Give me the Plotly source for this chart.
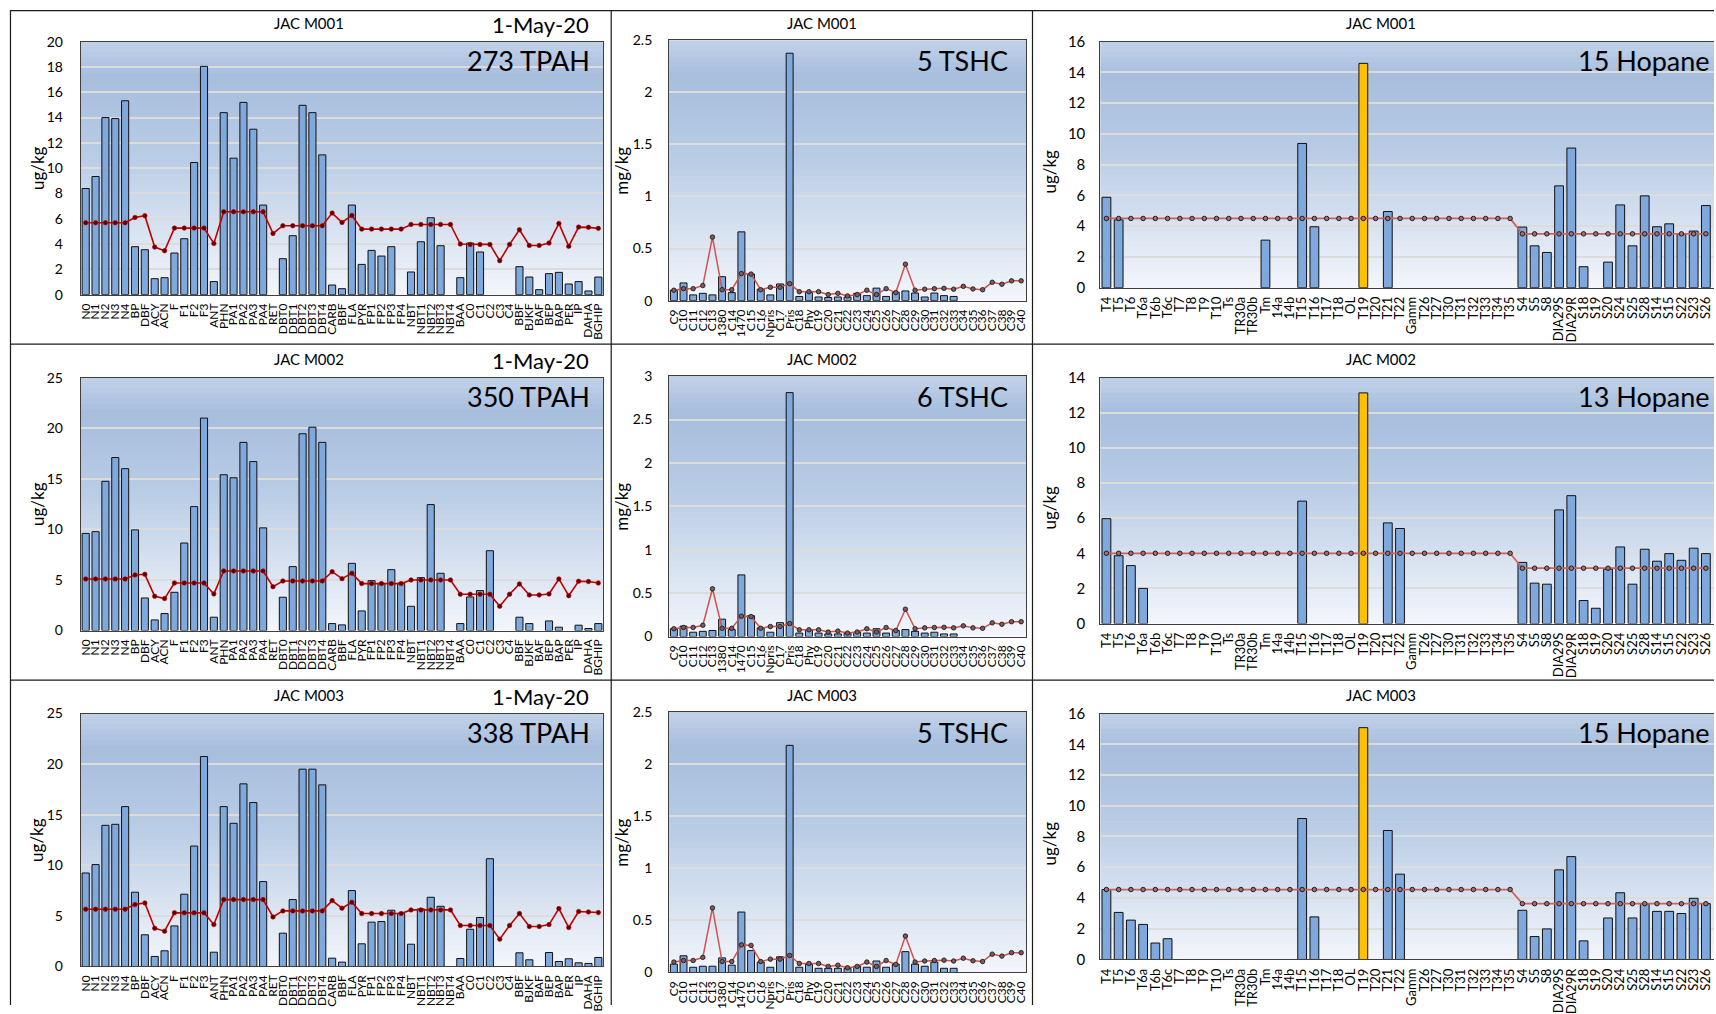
import plotly.graph_objects as go

W, H = 1716, 1014
# vertical placement: positions below are page pixels; Y_OFF / Y_K map them onto the
# figure's own pixel grid
Y_OFF, Y_K = 9.3, 0.9815
FONT = "Lato, 'Open Sans', sans-serif"

SAMPLES = ["JAC M001", "JAC M002", "JAC M003"]
SAMPLE_DATE = "1-May-20"

# ---------------- PAH (ug/kg) ----------------
PAH_LABELS = ["N0", "N1", "N2", "N3", "N4", "BP", "DBF", "ACY", "ACN", "F", "F1", "F2", "F3",
              "ANT", "PHN", "PA1", "PA2", "PA3", "PA4", "RET", "DBT0", "DBT1", "DBT2", "DBT3",
              "DBT4", "CARB", "BBF", "FLA", "PYR", "FP1", "FP2", "FP3", "FP4", "NBT", "NBT1",
              "NBT2", "NBT3", "NBT4", "BAA", "C0", "C1", "C2", "C3", "C4", "BBF", "BJKF", "BAF",
              "BEP", "BAP", "PER", "IP", "DAHA", "BGHIP"]

PAH_M001 = [8.39, 9.34, 14.0, 13.92, 15.33, 3.79, 3.55, 1.26, 1.34, 3.29, 4.42, 10.45, 18.05,
            1.03, 14.39, 10.79, 15.2, 13.08, 7.08, 0, 2.84, 4.66, 14.97, 14.39, 11.05, 0.76,
            0.47, 7.08, 2.39, 3.5, 3.05, 3.79, 0, 1.79, 4.18, 6.08, 3.87, 0, 1.34, 4.08, 3.37,
            0, 0, 0, 2.21, 1.39, 0.39, 1.66, 1.76, 0.84, 1.03, 0.29, 1.39]
PAH_M002 = [9.6, 9.77, 14.75, 17.1, 16.0, 9.95, 3.22, 1.05, 1.68, 3.78, 8.65, 12.25, 21.0,
            1.32, 15.4, 15.1, 18.6, 16.7, 10.15, 0, 3.29, 6.32, 19.45, 20.1, 18.6, 0.69, 0.56,
            6.64, 1.94, 4.93, 4.67, 6.02, 4.7, 2.4, 5.23, 12.45, 5.66, 0, 0.69, 3.32, 3.95,
            7.89, 0, 0, 1.32, 0.69, 0, 0.95, 0.33, 0, 0.53, 0.2, 0.69]
PAH_M003 = [9.24, 10.07, 13.95, 14.05, 15.8, 7.34, 3.13, 0.99, 1.55, 4.01, 7.14, 11.9, 20.75,
            1.41, 15.8, 14.15, 18.05, 16.2, 8.39, 0, 3.29, 6.61, 19.5, 19.5, 17.95, 0.82, 0.43,
            7.5, 2.24, 4.38, 4.44, 5.56, 5.26, 2.2, 5.69, 6.84, 5.95, 0, 0.79, 3.68, 4.84,
            10.65, 0, 0, 1.35, 0.66, 0, 1.38, 0.49, 0.76, 0.36, 0.3, 0.89]

PAH_REF_M001 = [5.68, 5.68, 5.68, 5.68, 5.68, 6.1, 6.24, 3.76, 3.47, 5.26, 5.26, 5.26, 5.26,
                4.05, 6.55, 6.55, 6.55, 6.55, 6.55, 4.84, 5.45, 5.45, 5.45, 5.45, 5.45, 6.45,
                5.71, 6.26, 5.18, 5.18, 5.18, 5.18, 5.18, 5.55, 5.55, 5.55, 5.55, 5.55, 4.0,
                3.97, 3.97, 3.97, 2.68, 3.97, 5.13, 3.89, 3.89, 4.08, 5.63, 3.82, 5.34, 5.32, 5.24]
PAH_REF_M002 = [5.1, 5.1, 5.1, 5.1, 5.1, 5.49, 5.56, 3.39, 3.16, 4.7, 4.7, 4.7, 4.7,
                3.62, 5.89, 5.89, 5.89, 5.89, 5.89, 4.34, 4.9, 4.9, 4.9, 4.9, 4.9, 5.82,
                5.13, 5.66, 4.64, 4.64, 4.64, 4.64, 4.64, 5.0, 5.0, 5.0, 5.0, 5.0, 3.59,
                3.59, 3.59, 3.59, 2.4, 3.59, 4.61, 3.52, 3.52, 3.62, 5.1, 3.45, 4.87, 4.84, 4.7]
PAH_REF_M003 = [5.66, 5.66, 5.66, 5.66, 5.66, 6.12, 6.28, 3.78, 3.49, 5.3, 5.3, 5.3, 5.3,
                4.14, 6.61, 6.61, 6.61, 6.61, 6.61, 4.9, 5.49, 5.49, 5.49, 5.49, 5.49, 6.51,
                5.76, 6.35, 5.23, 5.23, 5.23, 5.23, 5.23, 5.59, 5.59, 5.59, 5.59, 5.59, 4.05,
                4.05, 4.05, 4.05, 2.7, 4.05, 5.23, 3.95, 3.95, 4.14, 5.72, 3.85, 5.43, 5.39, 5.33]

# ---------------- TSHC (mg/kg) ----------------
TSHC_LABELS = ["C9", "C10", "C11", "C12", "C13", "1380", "C14", "1470", "C15", "C16", "Npris",
               "C17", "Pris", "C18", "Phy", "C19", "C20", "C21", "C22", "C23", "C24", "C25",
               "C26", "C27", "C28", "C29", "C30", "C31", "C32", "C33", "C34", "C35", "C36",
               "C37", "C38", "C39", "C40"]

TSHC_M001 = [0.10, 0.17, 0.055, 0.07, 0.055, 0.23, 0.077, 0.66, 0.255, 0.11, 0.055, 0.16,
             2.375, 0.04, 0.08, 0.035, 0.03, 0.035, 0.035, 0.07, 0.048, 0.12, 0.04, 0.08,
             0.093, 0.073, 0.035, 0.073, 0.048, 0.04, 0, 0, 0, 0, 0, 0, 0]
TSHC_M002 = [0.09, 0.12, 0.05, 0.06, 0.07, 0.2, 0.08, 0.71, 0.24, 0.1, 0.05, 0.16,
             2.81, 0.04, 0.08, 0.04, 0.03, 0.03, 0.04, 0.05, 0.04, 0.09, 0.04, 0.07,
             0.08, 0.06, 0.04, 0.05, 0.03, 0.03, 0, 0, 0, 0, 0, 0, 0]
TSHC_M003 = [0.08, 0.16, 0.05, 0.06, 0.06, 0.14, 0.07, 0.58, 0.21, 0.1, 0.05, 0.15,
             2.18, 0.05, 0.08, 0.04, 0.04, 0.04, 0.04, 0.06, 0.05, 0.11, 0.05, 0.08,
             0.2, 0.08, 0.06, 0.1, 0.04, 0.04, 0, 0, 0, 0, 0, 0, 0]

TSHC_REF_M001 = [0.10, 0.115, 0.115, 0.145, 0.61, 0.105, 0.105, 0.26, 0.255, 0.105, 0.128,
                 0.128, 0.163, 0.086, 0.086, 0.086, 0.058, 0.07, 0.045, 0.058, 0.1, 0.058,
                 0.115, 0.077, 0.35, 0.10, 0.11, 0.115, 0.118, 0.11, 0.137, 0.112, 0.105,
                 0.176, 0.157, 0.19, 0.19]
TSHC_REF_M002 = [0.09, 0.105, 0.105, 0.13, 0.55, 0.095, 0.095, 0.235, 0.23, 0.095, 0.115,
                 0.115, 0.15, 0.078, 0.078, 0.078, 0.052, 0.063, 0.04, 0.052, 0.09, 0.052,
                 0.104, 0.07, 0.315, 0.09, 0.1, 0.104, 0.106, 0.1, 0.123, 0.1, 0.095,
                 0.158, 0.141, 0.171, 0.171]
TSHC_REF_M003 = [0.10, 0.115, 0.115, 0.145, 0.62, 0.105, 0.105, 0.265, 0.26, 0.105, 0.128,
                 0.128, 0.163, 0.086, 0.086, 0.086, 0.058, 0.07, 0.045, 0.058, 0.1, 0.058,
                 0.115, 0.077, 0.35, 0.10, 0.11, 0.115, 0.118, 0.11, 0.137, 0.112, 0.105,
                 0.176, 0.157, 0.19, 0.19]

# ---------------- Hopanes / steranes (ug/kg) ----------------
HOP_LABELS = ["T4", "T5", "T6", "T6a", "T6b", "T6c", "T7", "T8", "T9", "T10", "Ts", "TR30a",
              "TR30b", "Tm", "14a", "14b", "T15", "T16", "T17", "T18", "OL", "T19", "T20",
              "T21", "T22", "Gamm", "T26", "T27", "T30", "T31", "T32", "T33", "T34", "T35",
              "S4", "S5", "S8", "DIA29S", "DIA29R", "S18", "S19", "S20", "S24", "S25", "S28",
              "S14", "S15", "S22", "S23", "S26"]
HOP_KEY = "T19"

HOP_M001 = [5.88, 4.41, 0, 0, 0, 0, 0, 0, 0, 0, 0, 0, 0, 3.09, 0, 0, 9.38, 3.96, 0, 0, 0,
            14.59, 0, 4.95, 0, 0, 0, 0, 0, 0, 0, 0, 0, 0, 3.94, 2.72, 2.29, 6.62, 9.08, 1.36,
            0, 1.66, 5.38, 2.72, 5.97, 3.96, 4.15, 3.48, 3.68, 5.34]
HOP_M002 = [5.97, 3.86, 3.3, 2.0, 0, 0, 0, 0, 0, 0, 0, 0, 0, 0, 0, 0, 6.97, 0, 0, 0, 0,
            13.13, 0, 5.73, 5.41, 0, 0, 0, 0, 0, 0, 0, 0, 0, 3.48, 2.3, 2.24, 6.47, 7.28, 1.31,
            0.87, 3.1, 4.36, 2.24, 4.23, 3.55, 3.98, 3.6, 4.29, 3.98]
HOP_M003 = [4.55, 3.06, 2.56, 2.28, 1.07, 1.35, 0, 0, 0, 0, 0, 0, 0, 0, 0, 0, 9.17, 2.77, 0,
            0, 0, 15.08, 0, 8.39, 5.55, 0, 0, 0, 0, 0, 0, 0, 0, 0, 3.2, 1.49, 1.99, 5.83, 6.69,
            1.21, 0, 2.7, 4.34, 2.7, 3.63, 3.13, 3.13, 2.99, 3.98, 3.63]

# reference levels: terpane block (T4..T35) and sterane block (S4..S26)
HOP_REF_LEVELS = [(4.5, 3.5), (4.0, 3.15), (4.55, 3.63)]
N_TERPANES = 34

PAH_YMAX = [20, 25, 25]
PAH_DTICK = [2, 5, 5]
TSHC_YMAX = [2.5, 3, 2.5]
HOP_YMAX = [16, 14, 16]

# ---------------- layout geometry (page pixels) ----------------
ROW_STEP = 336
COLS = {
    "pah": dict(x0=78, x1=602, y0=41, y1=294),
    "tshc": dict(x0=668, x1=1026, y0=39.5, y1=300),
    "hop": dict(x0=1100.5, x1=1716, y0=41, y1=287),
}
HOP_SLOT = 12.27  # px per hopane category

BAR_BLUE = "#7FA8DD"
BAR_KEY = "#FFC000"

fig = go.Figure()
shapes = []
annotations = []


def px(x):
    return x / W


def py(y):
    return 1 - ((y - Y_OFF) / Y_K) / H


def axid(letter, k):
    return letter if k == 1 else f"{letter}{k}"


def mix(c1, c2, t):
    return tuple(round(a + (b - a) * t) for a, b in zip(c1, c2))


GRAD_STOPS = [(0.0, (194, 210, 232)), (0.14, (166, 189, 221)), (0.45, (185, 204, 229)),
              (1.0, (243, 246, 251))]


def grad_color(t):
    for (t0, c0), (t1, c1) in zip(GRAD_STOPS[:-1], GRAD_STOPS[1:]):
        if t0 <= t <= t1:
            return "rgb(%d,%d,%d)" % mix(c0, c1, (t - t0) / (t1 - t0))
    return "rgb(%d,%d,%d)" % GRAD_STOPS[-1][1]


def add_background(k):
    n = 48
    for i in range(n):
        t = (i + 0.5) / n
        shapes.append(dict(type="rect", xref=f"{axid('x', k)} domain",
                           yref=f"{axid('y', k)} domain",
                           x0=0, x1=1, y0=max(0, 1 - (i + 1) / n - 0.003), y1=1 - i / n,
                           fillcolor=grad_color(t), line=dict(width=0), layer="below"))


def add_panel(k, row, geom, labels, values, ref, ymax, dtick, ref_style, ytitle,
              ytitle_xy, tick_size, xtick_size, standoff, right_border=True, x_end=None,
              colors=None):
    off = row * ROW_STEP
    n = len(labels)
    xs = list(range(n))
    xa, ya = axid("x", k), axid("y", k)
    # empty results are left without a bar
    shown = [v if v else None for v in values]
    fig.add_trace(go.Bar(
        x=xs, y=shown, width=0.72,
        marker=dict(color=colors or BAR_BLUE, line=dict(color="#111111", width=1)),
        xaxis=xa, yaxis=ya, hoverinfo="skip"))
    fig.add_trace(go.Scatter(
        x=xs, y=ref, mode="lines+markers",
        line=dict(color=ref_style["color"], width=ref_style["width"]),
        marker=dict(size=ref_style["msize"], color=ref_style["mcolor"],
                    line=dict(width=ref_style["mlw"], color=ref_style["mline"])),
        xaxis=xa, yaxis=ya, hoverinfo="skip"))
    x_end = (n - 0.5) if x_end is None else x_end
    fig.layout[axid("xaxis", k)] = dict(
        domain=[px(geom["x0"]), min(1.0, px(geom["x1"]))], anchor=ya,
        range=[-0.5, x_end], tickmode="array", tickvals=xs, ticktext=labels,
        tickangle=-90, tickfont=dict(family=FONT, size=xtick_size, color="#000000"),
        showgrid=False, zeroline=False, showline=True, mirror=True,
        linecolor="#3F3F3F", linewidth=1, ticks="", ticklabelstandoff=3, fixedrange=True)
    fig.layout[axid("yaxis", k)] = dict(
        domain=[py(geom["y1"] + off), py(geom["y0"] + off)], anchor=xa,
        range=[0, ymax], dtick=dtick, tick0=0,
        tickfont=dict(family=FONT, size=tick_size, color="#000000"),
        showgrid=True, gridcolor="#DCDCDC", gridwidth=1.5, zeroline=False,
        showline=True, mirror=right_border, linecolor="#3F3F3F", linewidth=1,
        ticks="", ticklabelstandoff=standoff, fixedrange=True)
    add_background(k)
    annotations.append(dict(
        text=ytitle, xref="paper", yref="paper", x=px(ytitle_xy[0]),
        y=py(ytitle_xy[1] + off), textangle=-90, showarrow=False,
        font=dict(family=FONT, size=17, color="#000000"), xanchor="center", yanchor="middle"))


PAH_STYLE = dict(color="#C00000", width=1.6, msize=4.5, mcolor="#5A0000", mline="#C00000",
                 mlw=0.6)
TSHC_STYLE = dict(color="#D2524E", width=1.5, msize=4.5, mcolor="#7A5A5A", mline="#111111",
                  mlw=0.8)
HOP_STYLE = dict(color="#D0605C", width=1.8, msize=4.5, mcolor="#A07070", mline="#111111",
                 mlw=0.9)

pah_rows = [(PAH_M001, PAH_REF_M001), (PAH_M002, PAH_REF_M002), (PAH_M003, PAH_REF_M003)]
tshc_rows = [(TSHC_M001, TSHC_REF_M001), (TSHC_M002, TSHC_REF_M002),
             (TSHC_M003, TSHC_REF_M003)]
hop_rows = [HOP_M001, HOP_M002, HOP_M003]

key_idx = HOP_LABELS.index(HOP_KEY)
# the hopane panel runs off the right-hand edge of the page
hop_x_end = (W - COLS["hop"]["x0"]) / HOP_SLOT - 0.5

for row in range(3):
    off = row * ROW_STEP
    k0 = row * 3

    # PAH panel
    vals, ref = pah_rows[row]
    add_panel(k0 + 1, row, COLS["pah"], PAH_LABELS, vals, ref, PAH_YMAX[row],
              PAH_DTICK[row], PAH_STYLE, "ug/kg", (34, 167.5), 14, 12, 14)
    total_pah = round(sum(vals))

    # TSHC panel
    vals_t, ref_t = tshc_rows[row]
    add_panel(k0 + 2, row, COLS["tshc"], TSHC_LABELS, vals_t, ref_t, TSHC_YMAX[row],
              0.5, TSHC_STYLE, "mg/kg", (620, 170), 14, 12, 13)
    total_tshc = round(sum(vals_t))

    # Hopane panel
    hv = hop_rows[row]
    lvl_t, lvl_s = HOP_REF_LEVELS[row]
    hop_ref = [lvl_t] * N_TERPANES + [lvl_s] * (len(HOP_LABELS) - N_TERPANES)
    colors = [BAR_KEY if i == key_idx else BAR_BLUE for i in range(len(HOP_LABELS))]
    add_panel(k0 + 3, row, COLS["hop"], HOP_LABELS, hv, hop_ref, HOP_YMAX[row], 2,
              HOP_STYLE, "ug/kg", (1050, 171), 15, 13, 11, right_border=False,
              x_end=hop_x_end, colors=colors)

    # panel headings and totals
    for cx, txt in ((307, SAMPLES[row]), (821, SAMPLES[row]), (1382, SAMPLES[row])):
        annotations.append(dict(text=txt, xref="paper", yref="paper", x=px(cx),
                                y=py(22 + off), showarrow=False, xanchor="center",
                                yanchor="middle",
                                font=dict(family=FONT, size=15, color="#000000")))
    annotations.append(dict(text=SAMPLE_DATE, xref="paper", yref="paper", x=px(590),
                            y=py(24 + off), showarrow=False, xanchor="right",
                            yanchor="middle", font=dict(family=FONT, size=22, color="#000000")))
    big = [(591, f"{total_pah} TPAH"), (1010, f"{total_tshc} TSHC"),
           (1714, f"{round(hv[key_idx])} Hopane")]
    for rx, txt in big:
        annotations.append(dict(text=txt, xref="paper", yref="paper", x=px(rx),
                                y=py(60 + off), showarrow=False, xanchor="right",
                                yanchor="middle",
                                font=dict(family=FONT, size=27, color="#000000")))

# frame lines around the grid of panels
TOP_RULE = Y_OFF + 0.6
for y in (TOP_RULE, 343.5, 679.5):
    shapes.append(dict(type="line", xref="paper", yref="paper", x0=px(7), x1=1,
                       y0=py(y), y1=py(y), line=dict(color="#1A1A1A", width=1.2)))
for x in (7.5, 610, 1032.5):
    shapes.append(dict(type="line", xref="paper", yref="paper", x0=px(x), x1=px(x),
                       y0=py(TOP_RULE), y1=0, line=dict(color="#1A1A1A", width=1.2)))

fig.update_layout(
    width=W, height=H, margin=dict(l=0, r=0, t=0, b=0),
    paper_bgcolor="white", plot_bgcolor="white", showlegend=False,
    barmode="overlay", shapes=shapes, annotations=annotations,
    font=dict(family=FONT, color="#000000"),
)

fig.write_html("out.html", config=dict(displayModeBar=False))
